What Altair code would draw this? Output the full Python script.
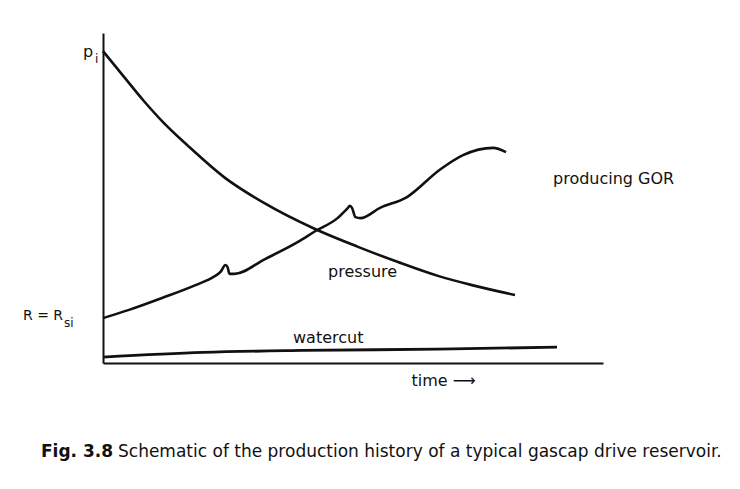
import altair as alt
import pandas as pd

# --- data (time 0-100, relative level 0-100) ---
pressure_t = [0, 4.2, 8.0, 12.0, 17.0, 24.4, 32.2, 42.4, 51.0, 59.0, 67.0, 73.8, 82.4]
pressure_v = [94.5, 86.7, 79.7, 73.0, 65.8, 56.1, 48.5, 40.6, 35.2, 30.6, 26.4, 23.6, 20.6]

gor_t = [0, 5.2, 11.8, 18.5, 22.1, 23.5, 24.5, 24.9, 25.3, 26.3, 32.4, 39.0, 42.5,
         46.9, 48.8, 49.4, 49.8, 50.5, 51.5, 55.4, 60.8, 67.3, 72.0, 78.0, 80.6]
gor_v = [13.6, 16.1, 19.7, 23.6, 26.1, 27.6, 29.7, 29.1, 27.0, 27.0, 31.5, 36.7, 40.0,
         43.9, 46.7, 47.6, 47.0, 44.2, 43.9, 47.0, 50.3, 58.5, 63.0, 65.2, 63.9]

water_t = [0, 20, 40, 67, 90.8]
water_v = [1.8, 3.2, 3.8, 4.2, 4.8]

label_text = ["pressure", "watercut", "producing GOR", "p"]
label_t = [45, 38, 90, -4]
label_v = [26.1, 6.1, 54.2, 92.7]

r_text = ["R = R"]
r_t = [-16]
r_v = [13.0]

sub_text = ["si", "i"]
sub_t = [-7.8, -1.6]
sub_v = [10.9, 90.9]

caption_bold = "Fig. 3.8"
caption_rest = "Schematic of the production history of a typical gascap drive reservoir."
caption_t = [-12.4, 3.0]
caption_v = [-28.5, -28.5]

FONT = "DejaVu Sans"
INK = "#111111"

xs = alt.Scale(domain=[0, 100])
ys = alt.Scale(domain=[0, 100])

x_axis = alt.Axis(domain=True, domainColor=INK, domainWidth=2, ticks=False, labels=False,
                  grid=False, title="time \u27f6", titleFont=FONT, titleFontSize=16,
                  titleFontWeight="normal", titleColor=INK, titleX=340, titleY=22,
                  titleAlign="center", titleBaseline="alphabetic")
y_axis = alt.Axis(domain=True, domainColor=INK, domainWidth=2, ticks=False, labels=False,
                  grid=False, title=None)

def line_layer(t, v, width):
    df = pd.DataFrame({"t": t, "v": v})
    return alt.Chart(df).mark_line(color=INK, strokeWidth=width, interpolate="monotone").encode(
        x=alt.X("t:Q", scale=xs, axis=x_axis),
        y=alt.Y("v:Q", scale=ys, axis=y_axis),
    )

pressure = line_layer(pressure_t, pressure_v, 2.6)
gor = line_layer(gor_t, gor_v, 2.6)
water = line_layer(water_t, water_v, 2.8)

def text_layer(texts, t, v, size, weight="normal"):
    df = pd.DataFrame({"t": t, "v": v, "label": texts})
    return alt.Chart(df).mark_text(font=FONT, fontSize=size, fontWeight=weight, color=INK,
                                   align="left", baseline="alphabetic").encode(
        x=alt.X("t:Q", scale=xs, axis=x_axis),
        y=alt.Y("v:Q", scale=ys, axis=y_axis),
        text="label:N",
    )

labels = text_layer(label_text, label_t, label_v, 16)
rlab = text_layer(r_text, r_t, r_v, 14)
subs = text_layer(sub_text, sub_t, sub_v, 12)
cap1 = text_layer([caption_bold], caption_t[:1], caption_v[:1], 17, weight="bold")
cap2 = text_layer([caption_rest], caption_t[1:], caption_v[1:], 17)

chart = alt.layer(pressure, gor, water, labels, rlab, subs, cap1, cap2).properties(
    width=500, height=330,
    autosize=alt.AutoSizeParams(type="none"),
    padding={"left": 95, "top": 25, "right": 129, "bottom": 118},
    background="white",
).configure_view(stroke=None)

chart.save("out.html", embed_options={"renderer": "svg", "actions": False})
